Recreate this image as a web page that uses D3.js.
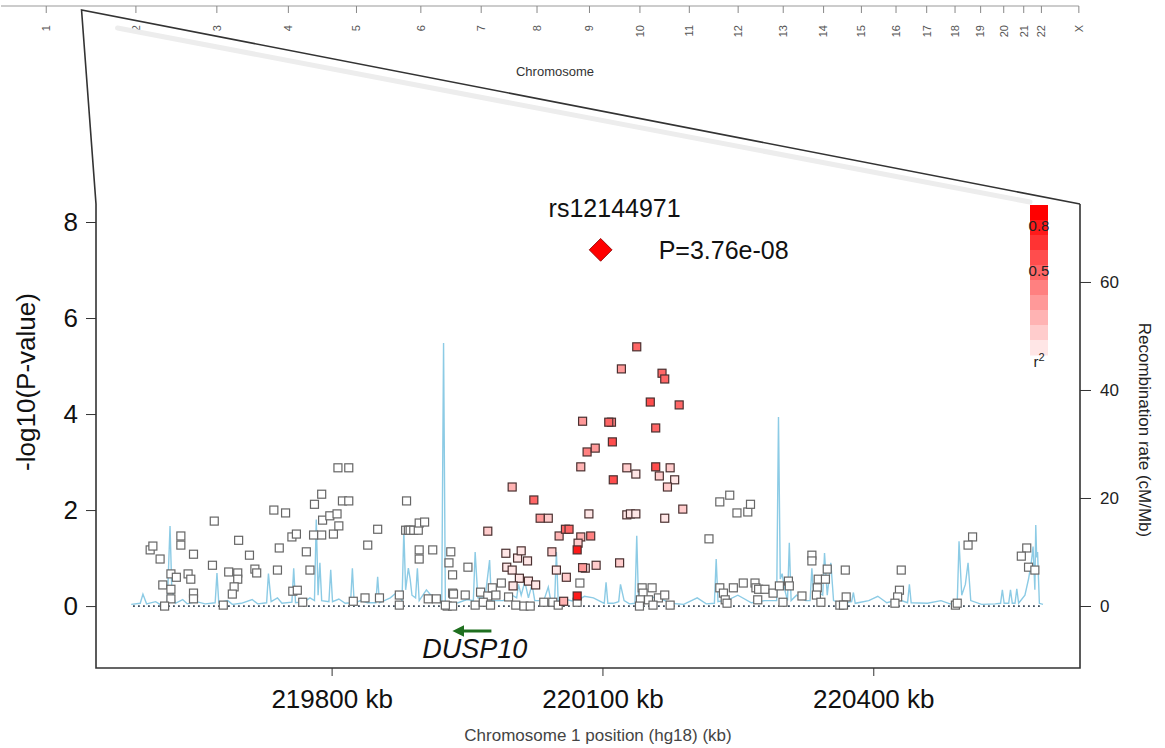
<!DOCTYPE html>
<html>
<head>
<meta charset="utf-8">
<script src="https://cdn.jsdelivr.net/npm/d3@7"></script>
<style>
  body { margin: 0; background: #fff; }
  svg { display: block; font-family: "Liberation Sans", Arial, sans-serif; }
</style>
</head>
<body>
<svg id="svg" width="1165" height="748"></svg>
<script>
/* chromosome overview (hg18, Mb) */
var chromNames = ['1','2','3','4','5','6','7','8','9','10','11','12','13','14','15','16','17','18','19','20','21','22','X'];
var chromLengths = [247.2,242.8,199.5,191.3,180.9,170.9,158.8,146.3,140.3,135.4,134.5,132.3,114.1,106.4,100.3,88.8,78.8,76.1,63.8,62.4,46.9,49.7,154.9];
var regionMb = 220.08;

/* axes */
var pTicks = [0, 2, 4, 6, 8];
var recTicks = [0, 20, 40, 60];
var posTicks = [219800, 220100, 220400];
var legendLabels = [0.8, 0.5];
var legendBins = [0.9, 0.8, 0.7, 0.6, 0.5, 0.4, 0.3, 0.2, 0.1, 0.0];

/* index SNP */
var topSnp = { name: 'rs12144971', kb: 220098, logp: 7.42, label: 'P=3.76e-08' };

/* gene */
var gene = { name: 'DUSP10', start: 219940, end: 219977, strand: '-' };

/* SNPs: [position kb, -log10(P), r2] */
var snps = [
  [219599,1.17,0],[219602,1.25,0],[219610,0.98,0],[219633,1.46,0],[219633,1.27,0],[219647,1.08,0],
  [219622,0.67,0],[219628,0.60,0],[219613,0.44,0],[219622,0.35,0],[219622,0.15,0],[219615,0.00,0],
  [219641,0.67,0],[219644,0.56,0],[219647,0.27,0],[219647,0.15,0],[219670,1.77,0],[219668,0.85,0],
  [219680,0.02,0],[219686,0.71,0],[219696,0.69,0],[219696,0.56,0],[219692,0.40,0],[219690,0.25,0],
  [219697,1.37,0],[219709,1.06,0],[219715,0.77,0],[219717,0.69,0],[219736,2.00,0],[219749,1.94,0],
  [219742,1.21,0],[219740,0.75,0],[219756,1.44,0],[219761,1.50,0],[219772,1.13,0],[219757,0.31,0],
  [219762,0.33,0],[219768,0.08,0],[219776,0.75,0],[219781,2.12,0],[219789,2.33,0],[219780,1.48,0],
  [219789,1.48,0],[219790,1.79,0],[219798,1.88,0],[219806,1.92,0],[219802,1.50,0],[219808,1.67,0],
  [219807,2.88,0],[219819,2.88,0],[219812,2.19,0],[219819,2.19,0],[219824,0.10,0],[219837,0.17,0],
  [219853,0.17,0],[219840,1.27,0],[219851,1.60,0],[219875,0.23,0],[219875,0.02,0],[219883,2.19,0],
  [219882,1.58,0],[219885,1.58,0],[219887,1.58,0],[219891,1.58,0],[219896,1.58,0],[219897,1.73,0],
  [219903,1.75,0],[219897,1.17,0],[219897,0.98,0],[219912,1.17,0],[219907,0.15,0],[219916,0.15,0],
  [219932,1.13,0],[219930,0.90,0],[219934,0.65,0],[219934,0.27,0],[219928,0.00,0],[219934,0.00,0],
  [219935,0.25,0],[219948,0.23,0],[219965,0.29,0],[219973,0.21,0],[219978,0.38,0],[219982,0.23,0],
  [219996,0.19,0],[219926,0.02,0],[219959,0.02,0],[219968,0.08,0],[219976,0.02,0],[220004,0.02,0],
  [220013,0.00,0],[220020,0.00,0],[220035,0.08,0],[220045,0.08,0],[220051,0.02,0],
  [219951,0.81,0],[219988,0.48,0],[220075,0.48,0],[220072,0.08,0],[220218,1.40,0],
  [220230,2.17,0],[220241,2.31,0],[220249,1.94,0],[220261,1.96,0],[220264,2.12,0],
  [220144,0.38,0],[220155,0.38,0],[220145,0.27,0],[220142,0.13,0],[220151,0.13,0],[220162,0.17,0],
  [220169,0.23,0],[220141,0.00,0],[220175,0.02,0],[220156,0.02,0],
  [220230,0.38,0],[220234,0.27,0],[220236,0.13,0],[220238,0.06,0],[220245,0.38,0],[220256,0.48,0],
  [220269,0.48,0],[220270,0.38,0],[220273,0.35,0],[220280,0.35,0],[220289,0.27,0],[220296,0.42,0],
  [220306,0.52,0],[220307,0.42,0],[220272,0.13,0],[220300,0.08,0],[220321,0.21,0],[220332,1.06,0],
  [220332,0.94,0],[220349,0.77,0],[220339,0.56,0],[220347,0.56,0],[220338,0.38,0],[220337,0.23,0],
  [220342,0.08,0],[220369,0.75,0],[220370,0.19,0],[220363,0.02,0],[220367,0.02,0],[220431,0.75,0],
  [220429,0.33,0],[220427,0.19,0],[220424,0.06,0],[220491,0.02,0],[220493,0.06,0],[220510,1.44,0],
  [220505,1.27,0],[220570,1.21,0],[220564,1.04,0],[220572,0.81,0],[220579,0.75,0],
  [219993,1.10,0.1],[220006,1.00,0.1],[220010,1.15,0.1],[220017,0.94,0.1],[219994,0.81,0.05],
  [220000,0.75,0.05],[220008,0.58,0.1],[220018,0.52,0.05],[220026,0.44,0.1],[220001,0.42,0.05],
  [220049,0.75,0.1],[220060,0.60,0.15],[220081,0.79,0.1],[220093,0.85,0.15],[220119,0.90,0.2],
  [220057,0.10,0.25],[219973,1.56,0.2],[220052,1.46,0.25],[220076,1.44,0.25],[220073,1.31,0.2],
  [220044,1.13,0.2],[220000,2.48,0.25],[220040,1.83,0.2],[220085,1.92,0.1],[220127,1.90,0.1],
  [220131,1.92,0.1],[220137,1.92,0.1],[220169,1.83,0.1],[220189,2.02,0.15],
  [220127,2.88,0.15],[220137,2.75,0.1],[220175,2.88,0.2],[220163,2.71,0.2],[220180,2.63,0.1],
  [220172,2.48,0.2],[220076,2.90,0.3],[220083,3.21,0.45],[220092,3.29,0.4],[220078,3.85,0.4],
  [220121,4.94,0.35],[220110,3.83,0.45],[220031,1.83,0.4],[220078,0.80,0.4],[220087,1.46,0.5],
  [220138,5.40,0.6],[220166,4.85,0.55],[220169,4.73,0.55],[220185,4.19,0.55],[220107,3.83,0.6],
  [220159,3.71,0.6],[220111,3.42,0.65],[220159,2.90,0.65],[220112,2.63,0.65],[220024,2.21,0.6],
  [220059,1.60,0.6],[220063,1.60,0.55],[220153,4.25,0.7],[220072,1.17,0.85],[220072,0.21,0.85]
];

/* recombination rate: [position kb, cM/Mb] */
var recomb = [
  [219578,0.3],[219588,0.5],[219591,2.2],[219595,0.4],[219605,0.8],[219610,0.3],[219618,0.6],[219621,14.8],[219623,3],[219627,0.5],
  [219635,1.2],[219640,0.4],[219650,0.8],[219660,0.4],[219671,0.6],[219673,6.1],[219675,0.6],[219685,1],[219690,0.3],
  [219700,0.5],[219712,1.2],[219718,0.4],
  [219728,0.6],[219730,6],[219733,0.8],[219740,1.5],[219745,0.5],[219756,0.7],[219758,7],[219760,0.6],
  [219770,0.8],[219776,1.5],[219781,1],[219783,16],[219785,2],[219787,8],[219789,1],[219797,0.8],
  [219799,6.7],[219801,0.8],[219808,1.3],[219815,0.5],[219821,0.6],[219823,7],[219825,0.5],[219832,1],[219840,0.6],[219849,0.6],
  [219851,5.4],[219853,0.6],[219865,1.5],[219872,2.5],[219878,1],[219880,14],[219882,3],[219885,7],
  [219887,5],[219889,2],[219893,1.5],[219895,7],[219897,1],[219905,3],[219910,2],[219915,1],
  [219922,0.5],[219924,48.7],[219926,0.5],[219940,0.6],[219950,1.2],[219957,1],[219959,10],[219962,1.5],
  [219970,1.5],[219975,8.5],[219977,1],[219990,1],[220000,2],[220005,1.5],[220007,4],[220010,2],
  [220014,4.5],[220018,1.5],[220022,4],[220025,1],[220035,1],[220040,3.5],[220043,0.8],[220047,0.8],
  [220049,10],[220051,0.8],[220060,1.2],[220070,0.8],[220080,1.8],[220090,1.5],[220102,0.5],[220104,4.4],[220106,0.5],[220112,0.5],
  [220118,0.8],[220120,4],[220124,1],[220130,0.4],[220136,0.5],[220138,13],[220140,0.6],[220150,1.2],[220160,1.8],
  [220175,0.5],[220190,0.3],[220205,1.5],[220215,0.4],[220224,0.5],[220226,8.7],[220228,0.8],[220240,1.2],[220250,2],
  [220265,0.6],[220280,1],[220293,1],[220295,35],[220297,5],[220299,6],[220302,3],[220305,1],
  [220307,11.7],[220309,1],[220315,2],[220325,1],[220330,1],[220332,7],[220334,1.5],[220340,2.5],
  [220344,2],[220346,9.8],[220349,2],[220353,8],[220356,1],[220365,0.5],[220376,0.8],[220378,2.5],
  [220380,0.5],[220395,1],[220405,1.8],[220415,0.6],[220428,1.2],[220438,0.6],[220440,4],[220442,0.6],[220460,0.5],
  [220475,1],[220485,0.4],[220493,0.5],[220495,12],[220498,2],[220502,4],[220505,8],[220508,1],
  [220520,0.3],[220535,0.4],[220541,0.5],[220543,3],[220545,0.5],[220550,0.5],[220552,3],[220554,0.5],
  [220557,0.5],[220559,3.2],[220561,0.5],[220568,2],[220572,5],[220575,8],[220577,11],[220579,3],
  [220580,15],[220581,9],[220582,10],[220584,0.5],[220588,0.3]
];
var zeroLine = [219580, 220587];

var svg = d3.select('svg');
var frame = { left: 96, right: 1080, top: 204, bottom: 668 };

var x = d3.scaleLinear().domain([219539, 220629]).range([frame.left, frame.right]);
var y = d3.scaleLinear().domain([-1.29, 8.375]).range([frame.bottom, frame.top]);
var yR = d3.scaleLinear().domain([-11.48, 74.44]).range([frame.bottom, frame.top]);
var red = d3.interpolateRgb('#ffffff', '#ff0000');
var r2color = function(r) { return r <= 0 ? '#ffffff' : red(Math.ceil(r * 10 - 1e-9) / 10); };

/* ---- chromosome strip ---- */
var cum = d3.cumsum(chromLengths);
var mids = chromLengths.map(function(l, i) { return cum[i] - l / 2; });
var xg = d3.scaleLinear().domain([0, 3000]).range([1, 1099]);

var strip = svg.append('g').attr('transform', 'translate(0,6)');
strip.append('line')
  .attr('x1', xg(0)).attr('x2', xg(mids[mids.length - 1]))
  .attr('stroke', '#999').attr('stroke-width', 1.2);
strip.selectAll('.ct').data(mids).enter().append('line')
  .attr('x1', function(d) { return xg(d); }).attr('x2', function(d) { return xg(d); })
  .attr('y1', 0).attr('y2', 7)
  .attr('stroke', '#888');
strip.selectAll('.cl').data(mids).enter().append('text')
  .attr('transform', function(d) { return 'translate(' + xg(d) + ',19) rotate(-90)'; })
  .attr('text-anchor', 'end').attr('dy', '0.35em')
  .attr('font-size', 11).attr('fill', '#555')
  .text(function(d, i) { return chromNames[i]; });
svg.append('text').attr('x', 555).attr('y', 76).attr('text-anchor', 'middle')
  .attr('font-size', 13).attr('fill', '#333').text('Chromosome');

/* zoom triangle */
var apex = [xg(regionMb), 10];
svg.append('line')
  .attr('x1', apex[0] + 36).attr('y1', apex[1] + 18).attr('x2', 1030).attr('y2', frame.top - 2)
  .attr('stroke', '#ededed').attr('stroke-width', 5).attr('stroke-linecap', 'round');
svg.append('path')
  .attr('d', 'M' + frame.left + ',' + frame.top + 'L' + apex[0] + ',' + apex[1] + 'L' + frame.right + ',' + frame.top)
  .attr('fill', 'none').attr('stroke', '#333').attr('stroke-width', 1.6);

/* frame */
svg.append('path')
  .attr('d', 'M' + frame.left + ',' + frame.top + 'V' + frame.bottom + 'H' + frame.right + 'V' + frame.top)
  .attr('fill', 'none').attr('stroke', '#333').attr('stroke-width', 1.6);

/* axes */
var axL = svg.append('g').attr('transform', 'translate(' + frame.left + ',0)')
  .call(d3.axisLeft(y).tickValues(pTicks).tickSize(10).tickPadding(8));
axL.select('.domain').remove();
axL.selectAll('text').attr('font-size', 26).attr('fill', '#111').attr('font-family', '"Liberation Sans", Arial, sans-serif');
axL.selectAll('line').attr('stroke', '#333');

var axR = svg.append('g').attr('transform', 'translate(' + frame.right + ',0)')
  .call(d3.axisRight(yR).tickValues(recTicks).tickSize(11).tickPadding(9));
axR.select('.domain').remove();
axR.selectAll('text').attr('font-size', 17).attr('fill', '#222').attr('font-family', '"Liberation Sans", Arial, sans-serif');
axR.selectAll('line').attr('stroke', '#333');

var axB = svg.append('g').attr('transform', 'translate(0,' + frame.bottom + ')')
  .call(d3.axisBottom(x).tickValues(posTicks).tickSize(8).tickPadding(14)
    .tickFormat(function(d) { return d + ' kb'; }));
axB.select('.domain').remove();
axB.selectAll('text').attr('font-size', 26).attr('fill', '#111').attr('font-family', '"Liberation Sans", Arial, sans-serif');
axB.selectAll('line').attr('stroke', '#333');

svg.append('text').attr('transform', 'translate(35,382) rotate(-90)')
  .attr('text-anchor', 'middle').attr('font-size', 26).attr('fill', '#111').text('-log10(P-value)');
svg.append('text').attr('transform', 'translate(1139,430) rotate(90)')
  .attr('text-anchor', 'middle').attr('font-size', 17).attr('fill', '#222').text('Recombination rate (cM/Mb)');
svg.append('text').attr('x', 598).attr('y', 741).attr('text-anchor', 'middle')
  .attr('font-size', 17).attr('fill', '#444').text('Chromosome 1 position (hg18) (kb)');

/* recombination rate */
var recLine = d3.line()
  .x(function(d) { return x(d[0]); })
  .y(function(d) { return yR(d[1]); });
svg.append('path').datum(recomb)
  .attr('d', recLine)
  .attr('fill', 'none').attr('stroke', '#8ccbe5').attr('stroke-width', 1.4);

/* baseline */
svg.append('line')
  .attr('x1', x(zeroLine[0])).attr('x2', x(zeroLine[1]))
  .attr('y1', y(0)).attr('y2', y(0))
  .attr('stroke', '#3a4a5a').attr('stroke-width', 1.8).attr('stroke-dasharray', '1.8,3.2');

/* SNPs */
var sz = 8;
svg.append('g').selectAll('rect').data(snps).enter().append('rect')
  .attr('x', function(d) { return x(d[0]) - sz / 2; })
  .attr('y', function(d) { return y(d[1]) - sz / 2; })
  .attr('width', sz).attr('height', sz)
  .attr('fill', function(d) { return r2color(d[2]); })
  .attr('stroke', function(d) { return d[2] > 0 ? '#4a3030' : '#666'; })
  .attr('stroke-width', 1.2);

/* index SNP */
var tx = x(topSnp.kb), ty = y(topSnp.logp);
svg.append('path')
  .attr('d', d3.symbol().type(d3.symbolSquare).size(260))
  .attr('transform', 'translate(' + tx + ',' + ty + ') rotate(45)')
  .attr('fill', '#ff0000').attr('stroke', '#8a0000').attr('stroke-width', 0.8);
svg.append('text').attr('x', tx + 14).attr('y', ty - 33).attr('text-anchor', 'middle')
  .attr('font-size', 25).attr('fill', '#111').text(topSnp.name);
svg.append('text').attr('x', tx + 58).attr('y', ty + 9)
  .attr('font-size', 25).attr('fill', '#111').text(topSnp.label);

/* gene */
var gy = 631;
svg.append('defs').append('marker')
  .attr('id', 'arr').attr('viewBox', '0 0 10 10').attr('refX', 2).attr('refY', 5)
  .attr('markerWidth', 4).attr('markerHeight', 4).attr('orient', 'auto-start-reverse')
  .append('path').attr('d', 'M0,0L10,5L0,10Z').attr('fill', '#1f6f1f');
svg.append('line')
  .attr('x1', x(gene.end)).attr('x2', x(gene.start) + 4)
  .attr('y1', gy).attr('y2', gy)
  .attr('stroke', '#1f6f1f').attr('stroke-width', 3)
  .attr('marker-end', 'url(#arr)');
svg.append('text').attr('x', (x(gene.start) + x(gene.end)) / 2).attr('y', 658)
  .attr('text-anchor', 'middle').attr('font-size', 27).attr('font-style', 'italic')
  .attr('fill', '#111').text(gene.name);

/* r2 legend */
var lx = 1030, lw = 18;
var ly = d3.scaleLinear().domain([1, 0]).range([205, 355]);
var leg = svg.append('g');
leg.selectAll('rect').data(legendBins).enter().append('rect')
  .attr('x', lx).attr('width', lw)
  .attr('y', function(d) { return ly(d + 0.1); })
  .attr('height', function(d) { return ly(d) - ly(d + 0.1) + 0.5; })
  .attr('fill', function(d) { return red(d + 0.1); });
leg.selectAll('text').data(legendLabels).enter().append('text')
  .attr('x', lx + lw / 2).attr('y', function(d) { return ly(d + 0.06); })
  .attr('dy', '0.35em').attr('text-anchor', 'middle')
  .attr('font-size', 15).attr('fill', '#222').text(function(d) { return d; });
var r2t = leg.append('text').attr('x', lx + lw / 2).attr('y', ly(0) + 12)
  .attr('text-anchor', 'middle').attr('font-size', 15).attr('fill', '#222');
r2t.append('tspan').text('r');
r2t.append('tspan').attr('dy', -6).attr('font-size', 11).text('2');
</script>
</body>
</html>
